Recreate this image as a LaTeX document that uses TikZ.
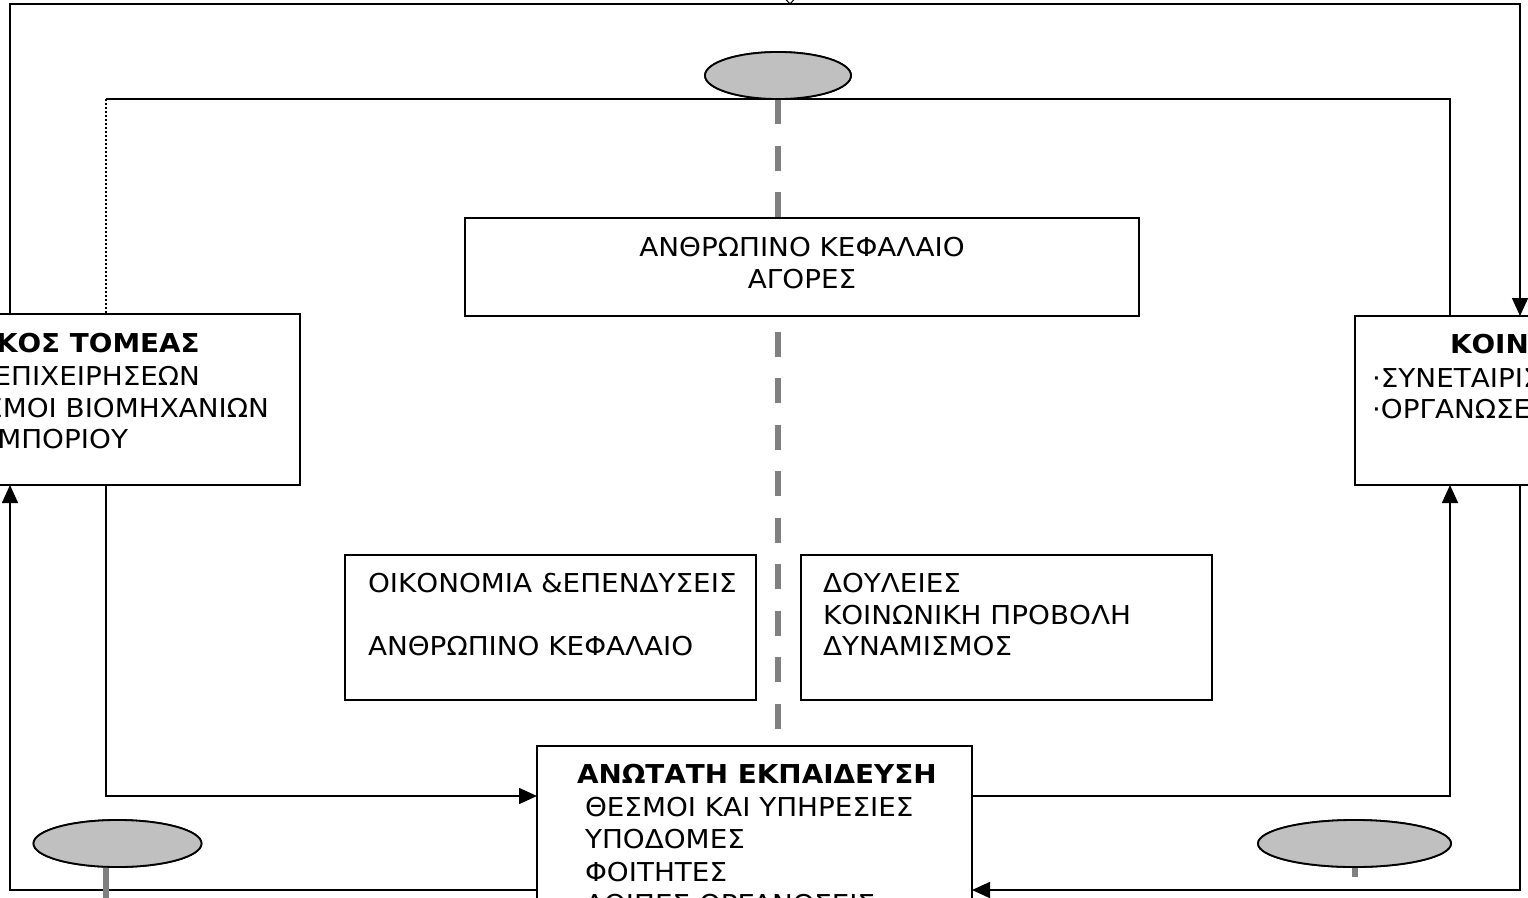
\documentclass[tikz,border=0pt]{standalone}
\usepackage{fontspec}
\setmainfont{DejaVu Sans}[FakeStretch=1.07]
\usetikzlibrary{arrows.meta,shapes.geometric}
\definecolor{ellgray}{HTML}{C0C0C0}
\definecolor{dashgray}{HTML}{808080}
\begin{document}
\begin{tikzpicture}[x=1pt,y=-1pt,
  font=\fontsize{26}{32}\selectfont,
  line/.style={line width=1.6pt, draw=black},
  arr/.style={line, -{Triangle[length=18pt,width=16pt]}},
  box/.style={draw=black, line width=1.5pt, fill=white, rectangle, inner sep=0pt, outer sep=0pt},
  oval/.style={draw=black, line width=1.8pt, fill=ellgray, ellipse, inner sep=0pt, outer sep=0pt},
  txt/.style={inner sep=0pt, outer sep=0pt, anchor=base west},
  rtxt/.style={inner sep=0pt, outer sep=0pt, anchor=base east},
  gline/.style={draw=dashgray, line width=6pt},
]
\useasboundingbox (0,0) rectangle (1528,897);
\fill[white] (0,0) rectangle (1528,897);
\clip (0,0) rectangle (1528,897);

% boxes (positions only, drawn later on top of lines)
\path
  node[box, minimum width=500pt, minimum height=171pt, draw=none, fill=none] (lbox) at (50,399.5) {}
  node[box, minimum width=400pt, minimum height=169pt, draw=none, fill=none] (rbox) at (1555,400.5) {}
  node[box, minimum width=674pt, minimum height=98pt, draw=none, fill=none] (tbox) at (802,267) {}
  node[box, minimum width=435pt, minimum height=300pt, draw=none, fill=none] (ebox) at (754.5,896) {};

\node[oval, minimum width=146pt, minimum height=47pt] (e1) at (778,75.5) {};
\node[oval, minimum width=168pt, minimum height=47pt] (e2) at (117.5,843.5) {};
\node[oval, minimum width=193pt, minimum height=47pt] (e3) at (1354.5,843.5) {};

% corner coordinates
\coordinate (c1) at (10,4);
\coordinate (c2) at (1520,4);
\coordinate (c3) at (1450,99);
\coordinate (c4) at (106,99);
\coordinate (c5) at (106,796);
\coordinate (c6) at (1450,796);
\coordinate (c7) at (1520,890);
\coordinate (c8) at (10,890);
\coordinate (s2) at (106,910);
\coordinate (s3) at (1354.5,877);
\coordinate (vt) at (790,4);

% grey dashed axis
\draw[gline, dash pattern=on 25pt off 21.5pt] (e1.south) -- (ebox.north -| e1.south);

% connectors
\draw[arr] (lbox.north -| c1) -- (c1) -- (c2) -- (rbox.north -| c2);
\draw[line] (rbox.north -| c3) -- (c3) -- (c4);
\draw[line, line width=1.6pt, dash pattern=on 2pt off 2pt] (c4) -- ([yshift=-17pt]lbox.north -| c4);
\draw[arr] ([yshift=-18.5pt]lbox.north -| c4) -- (lbox.north -| c4);
\draw[arr] (lbox.south -| c5) -- (c5) -- (ebox.west |- c5);
\draw[arr] (ebox.east |- c6) -- (c6) -- (rbox.south -| c6);
\draw[arr] (rbox.south -| c7) -- (c7) -- (ebox.east |- c7);
\draw[arr] (ebox.west |- c8) -- (c8) -- (lbox.south -| c8);
\draw[line width=1pt] (vt) ++(-4.5,-5) -- (vt) -- ++(4.5,-5);

% boxes
\node[box, minimum width=500pt, minimum height=171pt] (lboxd) at (lbox) {};
\node[box, minimum width=400pt, minimum height=169pt] (rboxd) at (rbox) {};
\node[box, minimum width=674pt, minimum height=98pt] (tboxd) at (tbox) {};
\node[box, minimum width=411pt, minimum height=145pt] (m1) at (550.5,627.5) {};
\node[box, minimum width=411pt, minimum height=145pt] (m2) at (1006.5,627.5) {};
\node[box, minimum width=435pt, minimum height=300pt] (eboxd) at (ebox) {};

% ellipse stubs
\draw[gline] (e2.south -| s2) -- (s2);
\draw[gline] (e3.south) -- (s3);
\node[oval, minimum width=146pt, minimum height=47pt] (e1d) at (e1) {};
\node[oval, minimum width=168pt, minimum height=47pt] (e2d) at (e2) {};
\node[oval, minimum width=193pt, minimum height=47pt] (e3d) at (e3) {};

% texts
\node[inner sep=0pt, anchor=base] (t1) at (802,256) {ΑΝΘΡΩΠΙΝΟ ΚΕΦΑΛΑΙΟ};
\node[inner sep=0pt, anchor=base] (t2) at (802,288) {ΑΓΟΡΕΣ};

\node[txt] (l1) at (-4,352) {\bfseries ΚΟΣ ΤΟΜΕΑΣ};
\node[rtxt] (l2) at (200,385) {ΕΠΙΧΕΙΡΗΣΕΩΝ};
\node[rtxt] (l3) at (269,417) {ΣΜΟΙ ΒΙΟΜΗΧΑΝΙΩΝ};
\node[rtxt] (l4) at (128,448) {ΕΜΠΟΡΙΟΥ};

\node[txt] (r1) at (1450,353) {\bfseries ΚΟΙΝ};
\node[txt] (r2) at (1372,387) {·ΣΥΝΕΤΑΙΡΙΣ};
\node[txt] (r3) at (1372,418) {·ΟΡΓΑΝΩΣΕ};

\node[txt] (a1) at (368,592) {ΟΙΚΟΝΟΜΙΑ \&ΕΠΕΝΔΥΣΕΙΣ};
\node[txt] (a2) at (368,655) {ΑΝΘΡΩΠΙΝΟ ΚΕΦΑΛΑΙΟ};

\node[txt] (b1) at (823,592) {ΔΟΥΛΕΙΕΣ};
\node[txt] (b2) at (823,624) {ΚΟΙΝΩΝΙΚΗ ΠΡΟΒΟΛΗ};
\node[txt] (b3) at (823,655) {ΔΥΝΑΜΙΣΜΟΣ};

\node[txt] (d1) at (577,783) {\bfseries ΑΝΩΤΑΤΗ ΕΚΠΑΙΔΕΥΣΗ};
\node[txt] (d2) at (585,816) {ΘΕΣΜΟΙ ΚΑΙ ΥΠΗΡΕΣΙΕΣ};
\node[txt] (d3) at (585,848) {ΥΠΟΔΟΜΕΣ};
\node[txt] (d4) at (585,881) {ΦΟΙΤΗΤΕΣ};
\node[txt] (d5) at (585,913) {ΛΟΙΠΕΣ ΟΡΓΑΝΩΣΕΙΣ};
\end{tikzpicture}
\end{document}
